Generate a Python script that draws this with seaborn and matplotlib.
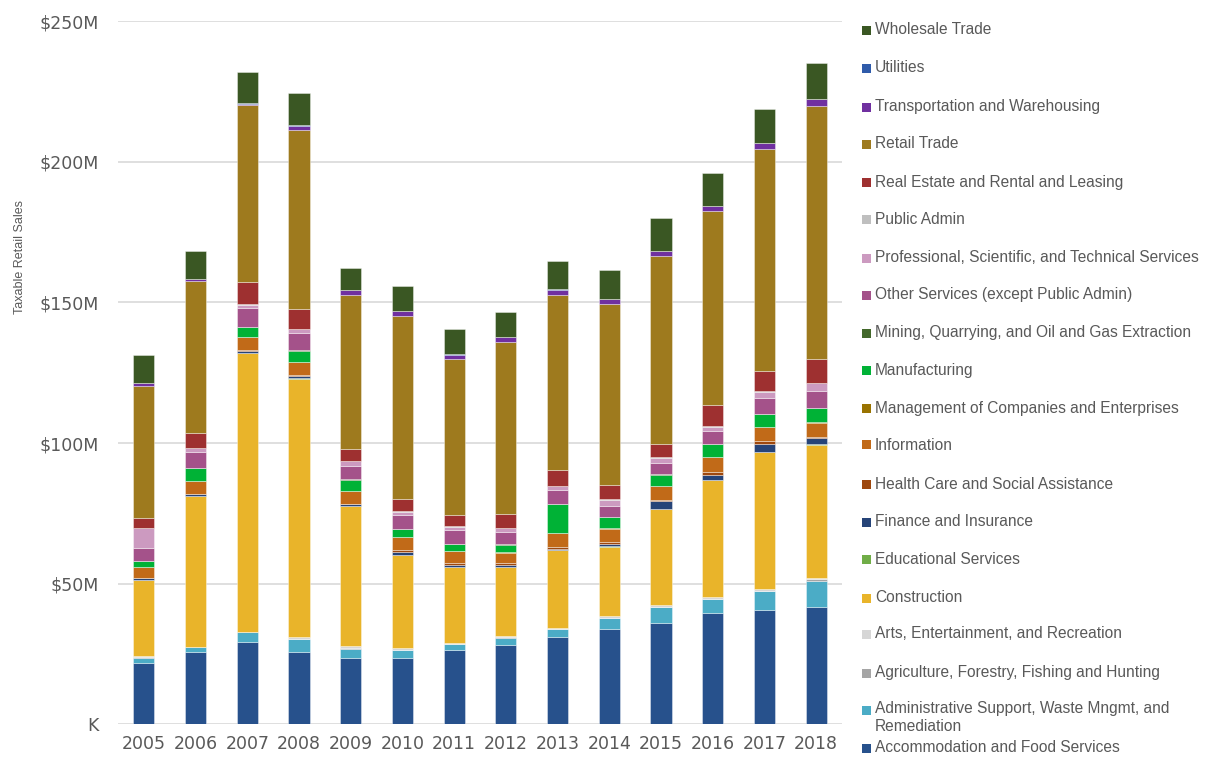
import matplotlib
matplotlib.use("Agg")
import matplotlib.pyplot as plt
from matplotlib.patches import Rectangle
from matplotlib.ticker import FuncFormatter
import numpy as np
import pandas as pd
import seaborn as sns

# Taxable retail sales by industry, $ millions
years = ["2005", "2006", "2007", "2008", "2009", "2010", "2011",
         "2012", "2013", "2014", "2015", "2016", "2017", "2018"]

accommodation = [21.9, 25.8, 29.4, 25.8, 23.7, 23.7, 26.4, 28.1, 31.0, 33.8, 36.1, 39.6, 40.6, 41.8]
administrative = [1.8, 1.6, 3.3, 4.5, 3.2, 2.8, 2.2, 2.7, 2.8, 4.0, 5.6, 5.0, 6.7, 9.3]
agriculture = [0.1, 0.1, 0.1, 0.1, 0.4, 0.1, 0.1, 0.1, 0.1, 0.1, 0.1, 0.1, 0.1, 0.4]
arts = [0.6, 0.1, 0.1, 0.6, 0.5, 0.5, 0.1, 0.5, 0.5, 0.6, 0.6, 0.6, 0.6, 0.6]
construction = [26.8, 53.6, 99.0, 91.9, 49.9, 33.1, 27.2, 24.5, 27.5, 24.5, 34.1, 41.6, 48.7, 47.4]
educational = [0.1, 0.1, 0.1, 0.1, 0.1, 0.1, 0.1, 0.1, 0.1, 0.4, 0.1, 0.1, 0.1, 0.1]
finance = [0.7, 0.5, 0.6, 0.8, 0.5, 1.0, 0.6, 0.6, 0.5, 0.7, 2.8, 1.5, 2.8, 2.2]
health_care = [0.2, 0.2, 0.4, 0.3, 0.2, 0.7, 0.7, 0.7, 0.6, 0.6, 0.4, 1.3, 1.0, 0.5]
information = [3.6, 4.4, 4.6, 4.8, 4.3, 4.5, 4.3, 3.7, 4.9, 4.9, 5.0, 5.1, 5.1, 5.0]
management = [0.1, 0.1, 0.1, 0.1, 0.1, 0.1, 0.1, 0.1, 0.1, 0.1, 0.1, 0.1, 0.1, 0.1]
manufacturing = [2.0, 4.5, 3.5, 3.9, 4.1, 2.7, 2.3, 2.8, 10.3, 3.9, 3.9, 4.6, 4.4, 5.1]
mining = [0.3, 0.1, 0.1, 0.1, 0.1, 0.1, 0.1, 0.1, 0.1, 0.1, 0.1, 0.1, 0.1, 0.1]
other_services = [4.5, 5.7, 6.6, 6.2, 4.9, 4.9, 5.0, 4.5, 4.9, 3.8, 4.0, 4.6, 5.6, 6.0]
professional = [7.0, 1.3, 1.3, 1.3, 1.7, 1.3, 1.1, 1.3, 1.3, 2.4, 1.9, 1.6, 2.4, 2.7]
public_admin = [0.2, 0.1, 0.1, 0.1, 0.1, 0.1, 0.1, 0.1, 0.1, 0.1, 0.1, 0.1, 0.1, 0.1]
real_estate = [3.3, 5.3, 8.1, 7.2, 4.0, 4.3, 3.9, 4.9, 5.6, 5.0, 4.9, 7.4, 7.4, 8.6]
retail = [47.0, 54.3, 62.7, 63.4, 54.8, 65.2, 55.7, 61.1, 62.4, 64.5, 66.9, 69.0, 78.8, 89.8]
transportation = [1.2, 0.6, 0.5, 1.7, 1.8, 1.6, 1.5, 1.7, 1.8, 1.8, 1.6, 1.8, 2.1, 2.6]
utilities = [0.1, 0.1, 0.2, 0.1, 0.1, 0.1, 0.1, 0.1, 0.1, 0.1, 0.1, 0.1, 0.1, 0.1]
wholesale = [9.8, 9.8, 11.3, 11.4, 7.7, 8.8, 9.0, 8.8, 10.1, 10.2, 11.5, 11.8, 11.9, 12.6]

industries = [
    "Accommodation and Food Services",
    "Administrative Support, Waste Mngmt, and\nRemediation",
    "Agriculture, Forestry, Fishing and Hunting",
    "Arts, Entertainment, and Recreation",
    "Construction",
    "Educational Services",
    "Finance and Insurance",
    "Health Care and Social Assistance",
    "Information",
    "Management of Companies and Enterprises",
    "Manufacturing",
    "Mining, Quarrying, and Oil and Gas Extraction",
    "Other Services (except Public Admin)",
    "Professional, Scientific, and Technical Services",
    "Public Admin",
    "Real Estate and Rental and Leasing",
    "Retail Trade",
    "Transportation and Warehousing",
    "Utilities",
    "Wholesale Trade",
]
series = [accommodation, administrative, agriculture, arts, construction,
          educational, finance, health_care, information, management,
          manufacturing, mining, other_services, professional, public_admin,
          real_estate, retail, transportation, utilities, wholesale]
colors = ["#27518C", "#4BACC6", "#A5A5A5", "#D6D6D6", "#E9B42A",
          "#70AD47", "#264478", "#9E480E", "#C16A18", "#997300",
          "#00B236", "#43682B", "#A4528A", "#CC9AC0", "#BFBFBF",
          "#9E3030", "#9E7A1E", "#7030A0", "#2F5BAA", "#3A5723"]

sns.set_theme(style="white")
plt.rcParams["font.family"] = ["DejaVu Sans"]
text_grey = "#595959"

fig = plt.figure(figsize=(12.1, 7.57), dpi=100)
ax = fig.add_axes([118 / 1210, 1 - 724.3 / 757, 724 / 1210, 703 / 757])

bottom = np.zeros(len(years))
for name, vals, col in zip(industries, series, colors):
    df = pd.DataFrame({"year": years, "sales": vals})
    sns.barplot(data=df, x="year", y="sales", color=col, width=0.41,
                bottom=bottom, errorbar=None, saturation=1, ax=ax,
                edgecolor=(1, 1, 1, 0.45), linewidth=0.6)
    bottom = bottom + np.asarray(vals)

ax.set_ylim(0, 250)
ax.set_xlim(-0.5, len(years) - 0.5)
ax.set_yticks([0, 50, 100, 150, 200, 250])
ax.yaxis.set_major_formatter(FuncFormatter(lambda v, p: "K" if v == 0 else f"${int(v)}M"))
ax.grid(axis="y", color="#D9D9D9", linewidth=1.2)
ax.set_axisbelow(True)
for s in ax.spines.values():
    s.set_visible(False)
ax.tick_params(axis="y", length=0, pad=14, labelsize=12.5, labelcolor=text_grey)
ax.tick_params(axis="x", length=0, pad=8, labelsize=12.5, labelcolor=text_grey)
ax.set_xlabel("")
ax.set_ylabel("")

fig.text(20 / 1210, 1 - 257 / 757, "Taxable Retail Sales", rotation=90,
         ha="center", va="center", fontsize=9, color=text_grey,
         family=["Liberation Sans Narrow", "Liberation Sans", "DejaVu Sans"])

# Legend, listed top-down in reverse stacking order
legend_font = ["Liberation Sans", "DejaVu Sans"]
entry_y = [30, 68, 107, 144, 182, 219, 258, 295, 333, 370,
           408, 445, 484, 522, 559, 598, 634, 673, 710, 748]
for i, (name, col) in enumerate(zip(industries[::-1], colors[::-1])):
    yc = entry_y[i]
    fig.patches.append(Rectangle((862 / 1210, 1 - (yc + 4.5) / 757), 9 / 1210, 9 / 757,
                                 transform=fig.transFigure, facecolor=col,
                                 edgecolor="none"))
    if "\n" in name:
        fig.text(875 / 1210, 1 - (yc - 9.5) / 757, name, ha="left", va="top",
                 fontsize=11.2, color=text_grey, linespacing=1.3,
                 family=legend_font)
    else:
        fig.text(875 / 1210, 1 - yc / 757, name, ha="left", va="center",
                 fontsize=11.2, color=text_grey, family=legend_font)

fig.savefig("out.png", dpi=100)
